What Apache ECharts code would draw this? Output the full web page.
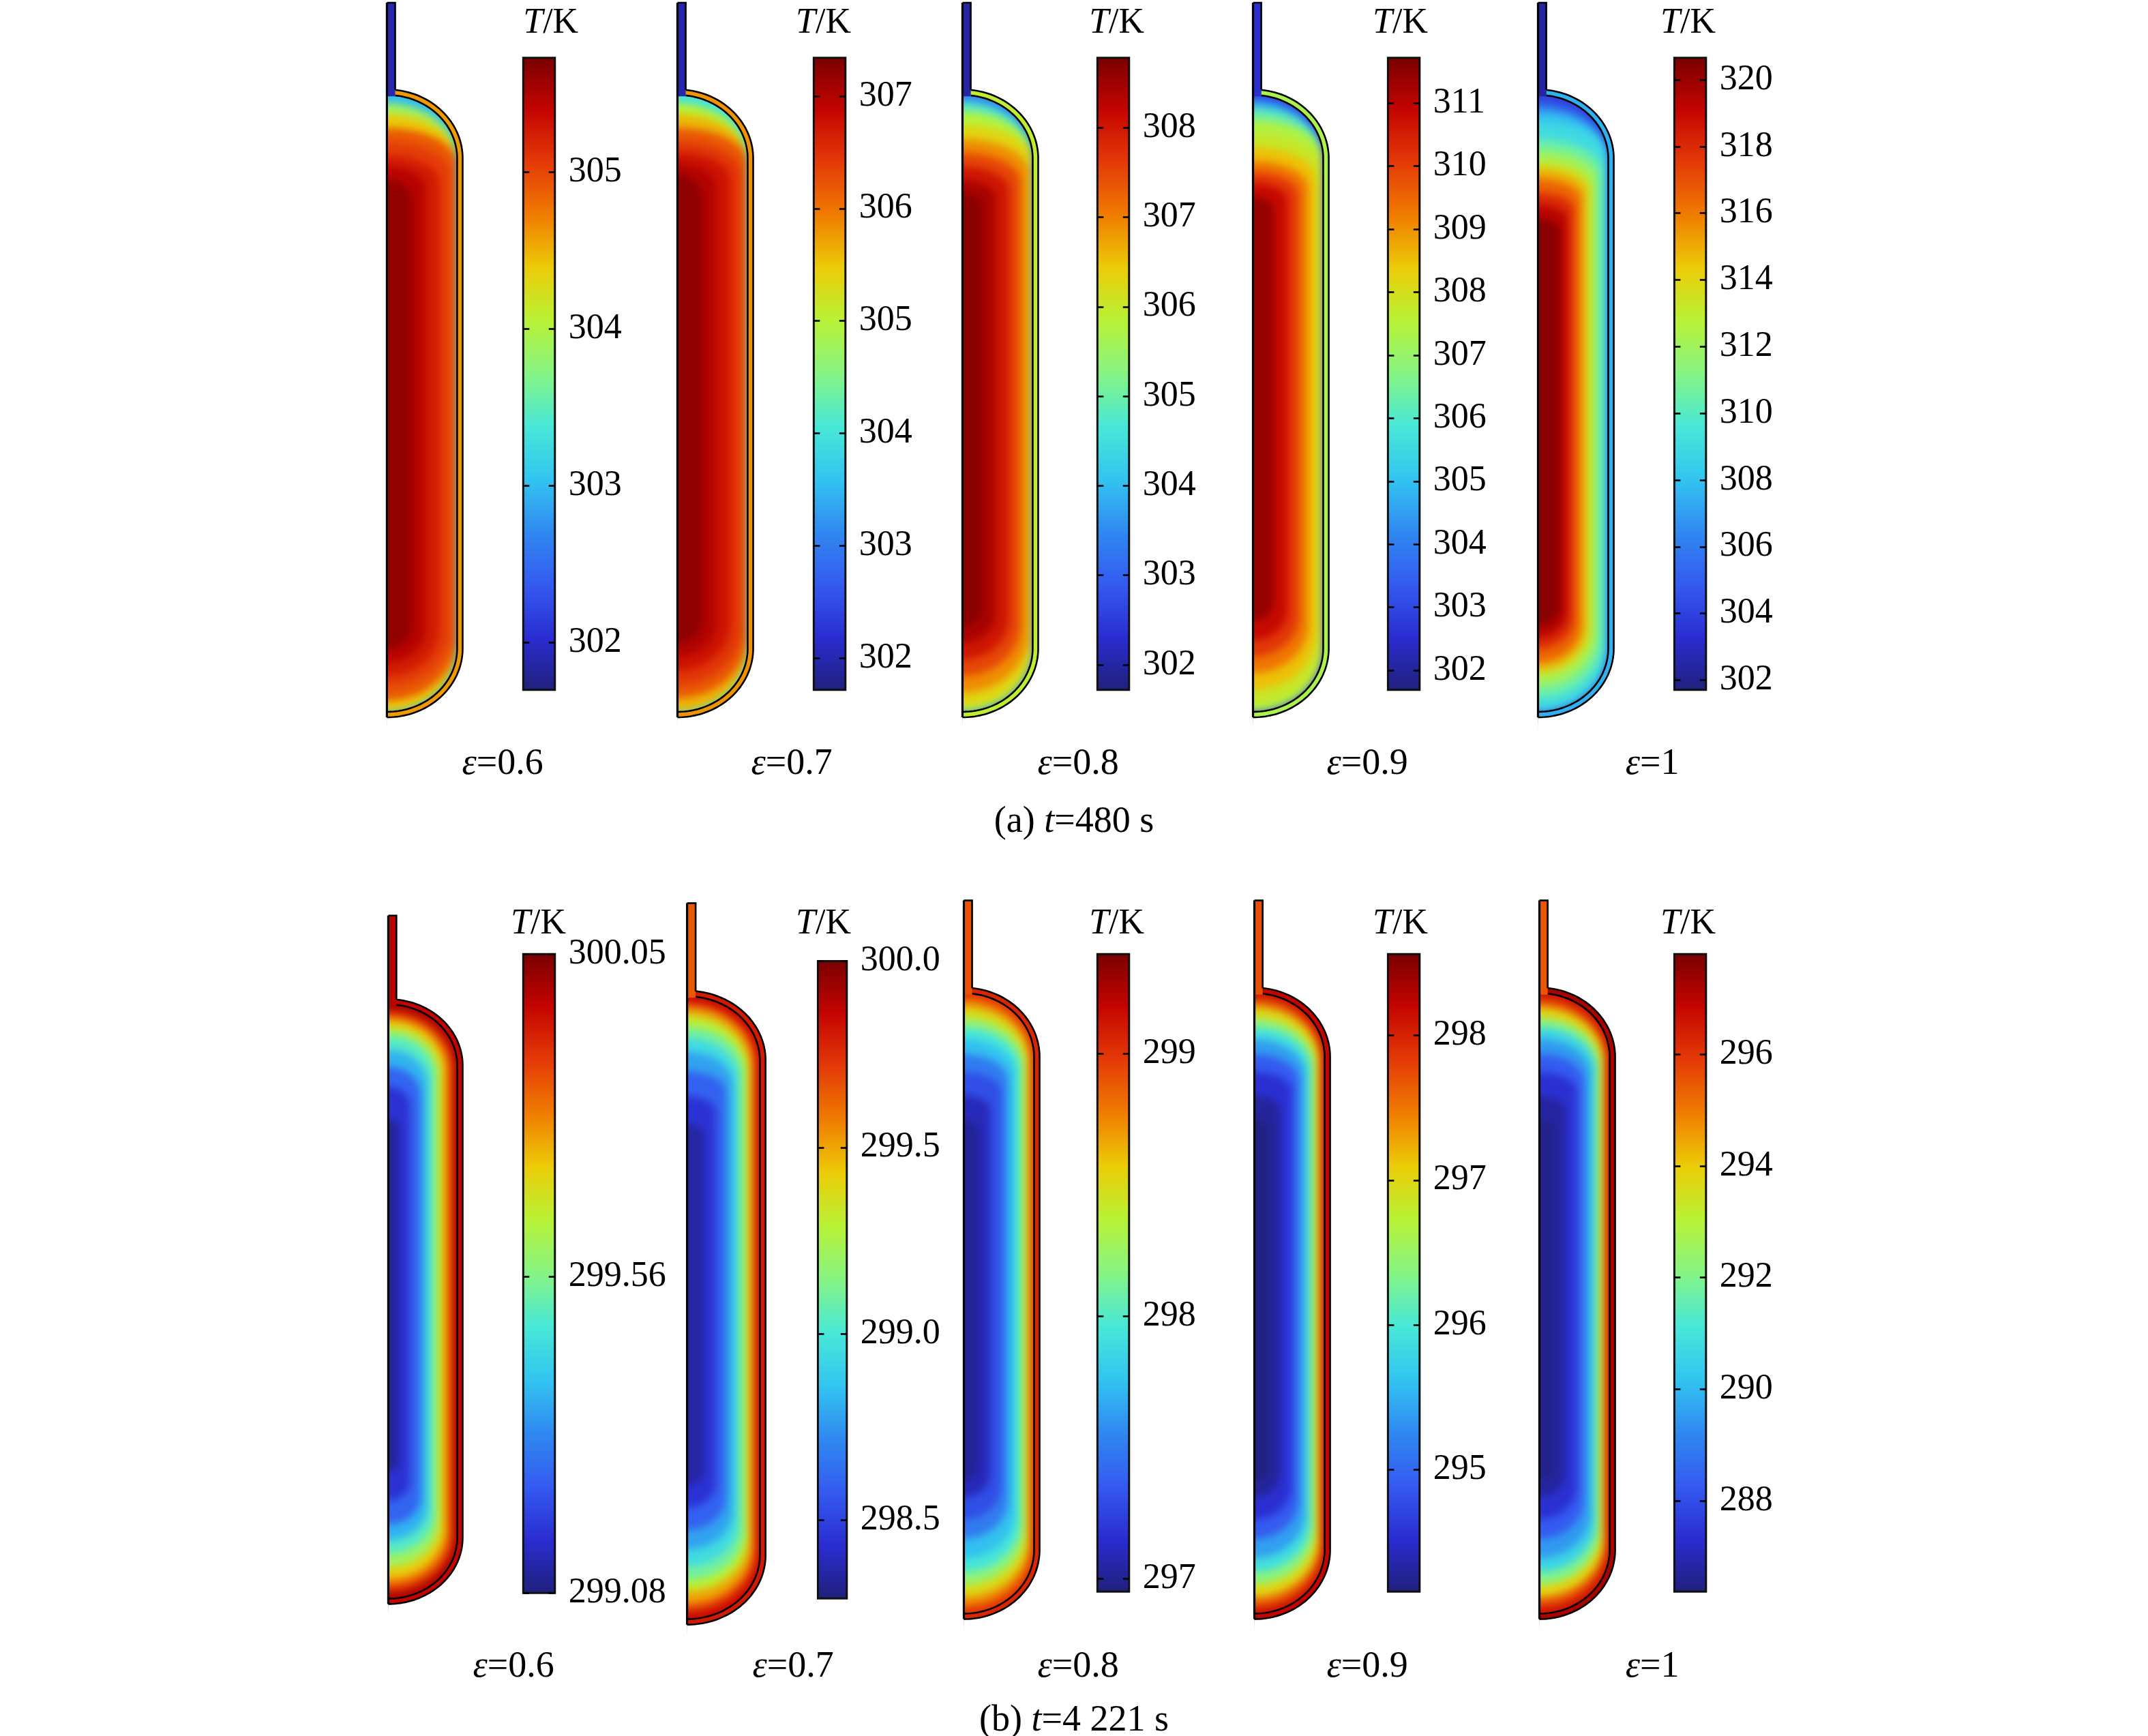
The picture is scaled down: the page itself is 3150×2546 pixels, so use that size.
<!DOCTYPE html>
<html>
<head>
<meta charset="utf-8">
<title>T/K</title>
<script src="https://cdn.jsdelivr.net/npm/echarts@6/dist/echarts.min.js"></script>
<style>
  html, body { margin: 0; padding: 0; background: #fff; }
  #chart { width: 3150px; height: 2546px; }
  /* the temperature field lives on its own layer (zlevel 1); soften the isotherm steps */
  #chart canvas[data-zr-dom-id="zr_1"] { filter: blur(6px); }
</style>
</head>
<body>
<div id="chart"></div>
<script>
// ---- data ----
const epsLabels = ['0.6', '0.7', '0.8', '0.9', '1'];

// colour bar ranges [Tmin, Tmax]
const rangeA = [[301.70, 305.73], [301.72, 307.34], [301.72, 308.78], [301.69, 311.72], [301.71, 320.66]];
const rangeB = [[299.08, 300.05], [298.29, 300.0], [296.95, 299.38], [294.16, 298.56], [286.37, 297.80]];

// colour bar tick labels
const ticksA = [
  [302, 303, 304, 305],
  [302, 303, 304, 305, 306, 307],
  [302, 303, 304, 305, 306, 307, 308],
  [302, 303, 304, 305, 306, 307, 308, 309, 310, 311],
  [302, 304, 306, 308, 310, 312, 314, 316, 318, 320]
];
const ticksB = [
  [299.08, 299.56, 300.05],
  [298.5, 299.0, 299.5, 300.0],
  [297, 298, 299],
  [295, 296, 297, 298],
  [288, 290, 292, 294, 296]
];
const decA = [0, 0, 0, 0, 0];
const decB = [2, 1, 0, 0, 0];

// wall (shell) and inlet neck temperatures
const shellA = [304.6, 305.8, 305.9, 307.3, 307.5];
const neckA = [301.9, 302.0, 302.0, 302.6, 302.4];
const shellB = [299.97, 299.8, 299.05, 298.2, 297.2];
const neckB = [299.98, 299.65, 298.9, 297.7, 295.5];

// isotherm bands, outermost first: [right edge r, top y, bottom y, T]
const bandsA06 = [
  [51, 452, 4, 303.0], [51, 446, 4, 303.9], [51, 438, 4, 304.4], [51, 428, 12, 304.9],
  [46, 418, 22, 305.05], [38, 408, 30, 305.25], [28, 400, 40, 305.45], [18, 390, 50, 305.62]
];
const bandsA07 = [
  [51, 452, 4, 304.0], [51, 446, 4, 305.0], [51, 438, 4, 305.6], [51, 428, 14, 306.2],
  [46, 418, 24, 306.45], [38, 410, 34, 306.75], [28, 402, 44, 306.98], [18, 394, 54, 307.2]
];
const bandsA08 = [
  [51, 452, 4, 303.5], [51, 447, 4, 304.8], [51, 440, 4, 305.8], [51, 430, 8, 306.3],
  [48, 420, 18, 306.9], [42, 410, 30, 307.5], [34, 400, 42, 308.0], [24, 390, 54, 308.4],
  [14, 380, 66, 308.65]
];
const bandsA09 = [
  [51, 452, 4, 303.0], [51, 448, 4, 304.8], [51, 442, 4, 306.3], [51, 434, 4, 307.4],
  [51, 424, 10, 307.8], [46, 414, 20, 308.5], [40, 404, 32, 309.3], [33, 396, 44, 310.1],
  [25, 388, 56, 310.8], [15, 378, 70, 311.4]
];
const bandsA10 = [
  [51, 452, 4, 304.0], [51, 446, 4, 306.0], [51, 440, 4, 308.0], [51, 432, 4, 309.0],
  [47, 420, 14, 310.5], [43, 412, 22, 312.0], [39, 404, 30, 313.5], [35, 398, 35, 315.0],
  [31, 391, 40, 316.5], [26, 381, 50, 318.0], [21, 372, 58, 319.3], [16, 362, 66, 320.3]
];
const bandsB06 = [
  [51, 452, 4, 300.0], [49, 448, 8, 299.92], [46, 444, 13, 299.82], [42, 440, 19, 299.72],
  [38, 434, 28, 299.6], [34, 428, 38, 299.5], [29, 418, 48, 299.38], [24, 405, 60, 299.26],
  [16, 390, 78, 299.17], [8, 365, 100, 299.11]
];
const bandsB07 = [
  [51, 452, 4, 299.85], [49, 448, 9, 299.7], [46, 444, 15, 299.5], [43, 438, 24, 299.3],
  [40, 430, 32, 299.1], [36, 422, 42, 298.95], [32, 412, 54, 298.78], [27, 398, 68, 298.6],
  [20, 380, 84, 298.45], [12, 360, 100, 298.36]
];
const bandsB08 = [
  [51, 452, 4, 299.0], [49, 448, 9, 298.75], [47, 442, 16, 298.5], [44, 434, 25, 298.2],
  [41, 427, 34, 297.95], [37, 419, 44, 297.75], [32, 408, 58, 297.5], [27, 395, 72, 297.3],
  [19, 378, 88, 297.1], [11, 360, 100, 297.02]
];
const bandsB09 = [
  [51, 452, 4, 298.1], [49, 448, 9, 297.6], [47, 442, 16, 297.0], [44, 434, 25, 296.4],
  [41, 427, 34, 295.9], [37, 419, 44, 295.4], [32, 408, 58, 294.9], [27, 395, 72, 294.55],
  [19, 378, 88, 294.3], [11, 360, 100, 294.2]
];
const bandsB10 = [
  [51, 452, 4, 296.6], [49, 448, 9, 295.5], [47, 442, 16, 293.8], [44, 434, 25, 292.0],
  [41, 427, 34, 290.6], [37, 419, 44, 289.5], [32, 408, 58, 288.3], [27, 395, 72, 287.4],
  [19, 378, 88, 286.8], [11, 360, 100, 286.55]
];

// ---- styles and layout ----
const COLORS = ['#20207a', '#2a2cd0', '#345af0', '#3088f0', '#32c4f0', '#48e8d8', '#86f484',
  '#b8f236', '#eccc08', '#f07c00', '#e43a08', '#c40400', '#780000'];
const FONT = 'Liberation Serif';
const S = 3150 / 1560;   // layout below is measured on a 1560 px wide copy

// tank shape in its own data units
const TANK = { rIn: 51, rOut: 55, capIn: 46, capOut: 50, yIn: [4, 452], yOut: [0, 456], neckW: 6, neckTop: 519 };
const K = TANK.capIn / TANK.rIn;
const MIRROR = 8;   // how far the field is continued past the symmetry axis (hidden by the mask)
const MASK = 16;    // white margin around the tank that hides the softened field edge

const ROWS = [
  {
    bands: [bandsA06, bandsA07, bandsA08, bandsA09, bandsA10],
    range: rangeA, ticks: ticksA, dec: decA, shell: shellA, neck: neckA,
    tankLeft: [281, 492, 699, 910, 1117], tankTop: [2, 2, 2, 2, 2], tankBottom: [521, 521, 521, 521, 521],
    tankW: [55, 55, 55, 55, 55],
    cbLeft: [380, 591, 797, 1008, 1216], cbTop: [42, 42, 42, 42, 42], cbBottom: [501, 501, 501, 501, 501],
    cbW: [23, 23, 23, 23, 23],
    tkX: [400, 598, 811, 1017, 1226], tkY: 17,
    epsX: [365, 575, 783, 993, 1200], epsY: 555,
    caption: '(a) {i|t}=480 s', capX: 780, capY: 597
  },
  {
    bands: [bandsB06, bandsB07, bandsB08, bandsB09, bandsB10],
    range: rangeB, ticks: ticksB, dec: decB, shell: shellB, neck: neckB,
    tankLeft: [282, 499, 700, 911, 1118], tankTop: [665, 656, 654, 654, 654], tankBottom: [1165, 1180, 1176, 1176, 1176],
    tankW: [54, 57, 55, 55, 55],
    cbLeft: [380, 594, 797, 1008, 1216], cbTop: [693, 698, 693, 693, 693], cbBottom: [1157, 1161, 1156, 1156, 1156],
    cbW: [23, 21, 23, 23, 23],
    tkX: [391, 598, 811, 1017, 1226], tkY: 671,
    epsX: [373, 576, 783, 993, 1200], epsY: 1211,
    caption: '(b) {i|t}=4 221 s', capX: 780, capY: 1250
  }
];

// points of a rounded outline: axis bottom -> bottom corner -> wall -> top corner (stops at x = xStop)
function outline(xr, yTop, yBot, bvBot, bvTop, n, xStop) {
  bvBot = Math.min(bvBot, (yTop - yBot) / 2);
  bvTop = Math.min(bvTop, (yTop - yBot) / 2);
  const pts = [];
  for (let i = 0; i <= n; i++) {
    const a = -Math.PI / 2 + (i / n) * Math.PI / 2;
    pts.push([xr * Math.cos(a), yBot + bvBot + bvBot * Math.sin(a)]);
  }
  const aEnd = Math.acos((xStop || 0) / xr);
  for (let i = 0; i <= n; i++) {
    const a = (i / n) * aEnd;
    pts.push([xr * Math.cos(a), yTop - bvTop + bvTop * Math.sin(a)]);
  }
  return pts;
}

function renderField(params, api) {
  let xr = api.value(0), yTop = api.value(1), yBot = api.value(2);
  let bvTop;
  if (params.dataIndex === 0) {   // outermost band runs on under the wall
    xr += 8; yTop += 8; yBot -= 8;
    bvTop = K * xr;
  } else {
    // top isotherms keep the head's base line, so they flatten towards the inlet
    const capBase = TANK.yIn[1] - TANK.capIn;
    bvTop = Math.max(0.5 * xr, Math.min(K * xr, yTop - capBase + K * (TANK.rIn - xr)));
  }
  const half = outline(xr, yTop, yBot, K * xr, bvTop, 32);
  const back = half.slice().reverse().map(p => [-Math.min(p[0], MIRROR), p[1]]);
  return {
    type: 'polygon',
    shape: { points: half.concat(back).map(p => api.coord(p)) },
    style: { fill: api.visual('color') }
  };
}

function renderShell(params, api) {
  const outer = outline(TANK.rOut, TANK.yOut[1], TANK.yOut[0], TANK.capOut, TANK.capOut, 48, TANK.neckW);
  const inner = outline(TANK.rIn, TANK.yIn[1], TANK.yIn[0], TANK.capIn, TANK.capIn, 48, TANK.neckW);
  const ring = outer.concat(inner.slice().reverse()).map(p => api.coord(p));
  const xFar = TANK.rOut + 20, top = TANK.neckTop;
  const maskRight = outer.concat([[TANK.neckW, top], [xFar, top], [xFar, -MASK], [0, -MASK]]).map(p => api.coord(p));
  const maskLeft = [[-MASK, -MASK], [0, -MASK], [0, top], [-MASK, top]].map(p => api.coord(p));
  const line = { stroke: '#000', lineWidth: 2.6, fill: null };
  return {
    type: 'group',
    children: [
      { type: 'polygon', shape: { points: maskRight }, style: { fill: '#fff' } },
      { type: 'polygon', shape: { points: maskLeft }, style: { fill: '#fff' } },
      { type: 'polygon', shape: { points: ring }, style: { fill: api.visual('color') } },
      { type: 'polyline', shape: { points: outer.map(p => api.coord(p)) }, style: line },
      { type: 'polyline', shape: { points: inner.map(p => api.coord(p)) }, style: line }
    ]
  };
}

function renderNeck(params, api) {
  const w = TANK.neckW, top = TANK.neckTop;
  const yBase = TANK.yIn[1] - 1;
  const yShoulder = TANK.yOut[1] - TANK.capOut + TANK.capOut * Math.sqrt(1 - (w / TANK.rOut) * (w / TANK.rOut));
  const c = p => api.coord(p);
  const line = { stroke: '#000', lineWidth: 2.6, fill: null };
  return {
    type: 'group',
    children: [
      { type: 'polygon', shape: { points: [c([0, yBase]), c([w, yBase]), c([w, top]), c([0, top])] },
        style: { fill: api.visual('color') } },
      { type: 'polyline', shape: { points: [c([0, top]), c([w, top]), c([w, yShoulder])] }, style: line },
      { type: 'line', shape: { x1: c([0, 0])[0], y1: c([0, 0])[1], x2: c([0, top])[0], y2: c([0, top])[1] },
        style: { stroke: '#000', lineWidth: 3.2 } }
    ]
  };
}

function renderBar(params, api) {
  const p0 = api.coord([api.value(0), api.value(3)]);
  const p1 = api.coord([api.value(2), api.value(1)]);
  const stops = COLORS.map((c, i) => ({ offset: i / (COLORS.length - 1), color: c }));
  return {
    type: 'rect',
    shape: { x: p0[0], y: p0[1], width: p1[0] - p0[0], height: p1[1] - p0[1] },
    style: { fill: new echarts.graphic.LinearGradient(0, 1, 0, 0, stops), stroke: '#111', lineWidth: 3 }
  };
}

const grid = [], xAxis = [], yAxis = [], series = [], visualMap = [], texts = [];
const rich = size => ({ i: { fontStyle: 'italic', fontFamily: FONT, fontSize: size, fill: '#000' } });
function addText(text, x, y, size) {
  texts.push({
    type: 'text', x: x * S, y: y * S, zlevel: 3,
    style: {
      text: text, rich: rich(size), fontFamily: FONT, fontSize: size, fill: '#000',
      align: 'center', verticalAlign: 'middle', textAlign: 'center', textVerticalAlign: 'middle'
    }
  });
}

ROWS.forEach(row => {
  for (let i = 0; i < 5; i++) {
    const [tMin, tMax] = row.range[i];
    const dec = row.dec[i];

    // tank
    const gTank = grid.length;
    grid.push({
      left: row.tankLeft[i] * S, top: row.tankTop[i] * S,
      width: row.tankW[i] * S, height: (row.tankBottom[i] - row.tankTop[i]) * S
    });
    xAxis.push({ type: 'value', gridIndex: gTank, min: 0, max: TANK.rOut, show: false });
    yAxis.push({ type: 'value', gridIndex: gTank, min: 0, max: TANK.neckTop, show: false });
    const yTank = yAxis.length - 1;

    const first = series.length;
    series.push({
      type: 'custom', xAxisIndex: xAxis.length - 1, yAxisIndex: yTank, zlevel: 1, z: 2,
      dimensions: ['r', 'top', 'bottom', 'T'], data: row.bands[i], renderItem: renderField
    });
    series.push({
      type: 'custom', xAxisIndex: xAxis.length - 1, yAxisIndex: yTank, zlevel: 2, z: 3,
      dimensions: ['r', 'top', 'bottom', 'T'], data: [[0, 0, 0, row.shell[i]]], renderItem: renderShell
    });
    series.push({
      type: 'custom', xAxisIndex: xAxis.length - 1, yAxisIndex: yTank, zlevel: 2, z: 4,
      dimensions: ['r', 'top', 'bottom', 'T'], data: [[0, 0, 0, row.neck[i]]], renderItem: renderNeck
    });
    visualMap.push({
      type: 'continuous', show: false, min: tMin, max: tMax, dimension: 3,
      seriesIndex: [first, first + 1, first + 2], inRange: { color: COLORS }
    });

    // colour bar
    const gBar = grid.length;
    grid.push({
      left: row.cbLeft[i] * S, top: row.cbTop[i] * S,
      width: row.cbW[i] * S, height: (row.cbBottom[i] - row.cbTop[i]) * S
    });
    xAxis.push({ type: 'value', gridIndex: gBar, min: 0, max: 1, show: false });
    const tickStyle = { show: true, inside: true, length: 9, customValues: row.ticks[i], lineStyle: { color: '#000', width: 2.6 } };
    yAxis.push({
      type: 'value', gridIndex: gBar, min: tMin, max: tMax, position: 'left', zlevel: 3, z: 10,
      axisLine: { show: false }, axisTick: tickStyle, axisLabel: { show: false }, splitLine: { show: false }
    });
    yAxis.push({
      type: 'value', gridIndex: gBar, min: tMin, max: tMax, position: 'right', zlevel: 3, z: 10,
      axisLine: { show: false }, axisTick: tickStyle, splitLine: { show: false },
      axisLabel: {
        show: true, customValues: row.ticks[i], margin: 20,
        fontFamily: FONT, fontSize: 52, color: '#000',
        formatter: v => Number(v).toFixed(dec)
      }
    });
    series.push({
      type: 'custom', xAxisIndex: xAxis.length - 1, yAxisIndex: yAxis.length - 2, zlevel: 3, z: 2,
      data: [[0, tMin, 1, tMax]], renderItem: renderBar
    });

    addText('{i|T}/K', row.tkX[i], row.tkY, 52);
    addText('{i|ε}=' + epsLabels[i], row.epsX[i], row.epsY, 54);
  }
  addText(row.caption, row.capX, row.capY, 54);
});

const chart = echarts.init(document.getElementById('chart'));
chart.setOption({
  backgroundColor: '#fff',
  animation: false,
  grid: grid,
  xAxis: xAxis,
  yAxis: yAxis,
  visualMap: visualMap,
  series: series,
  graphic: texts
});
</script>
</body>
</html>
